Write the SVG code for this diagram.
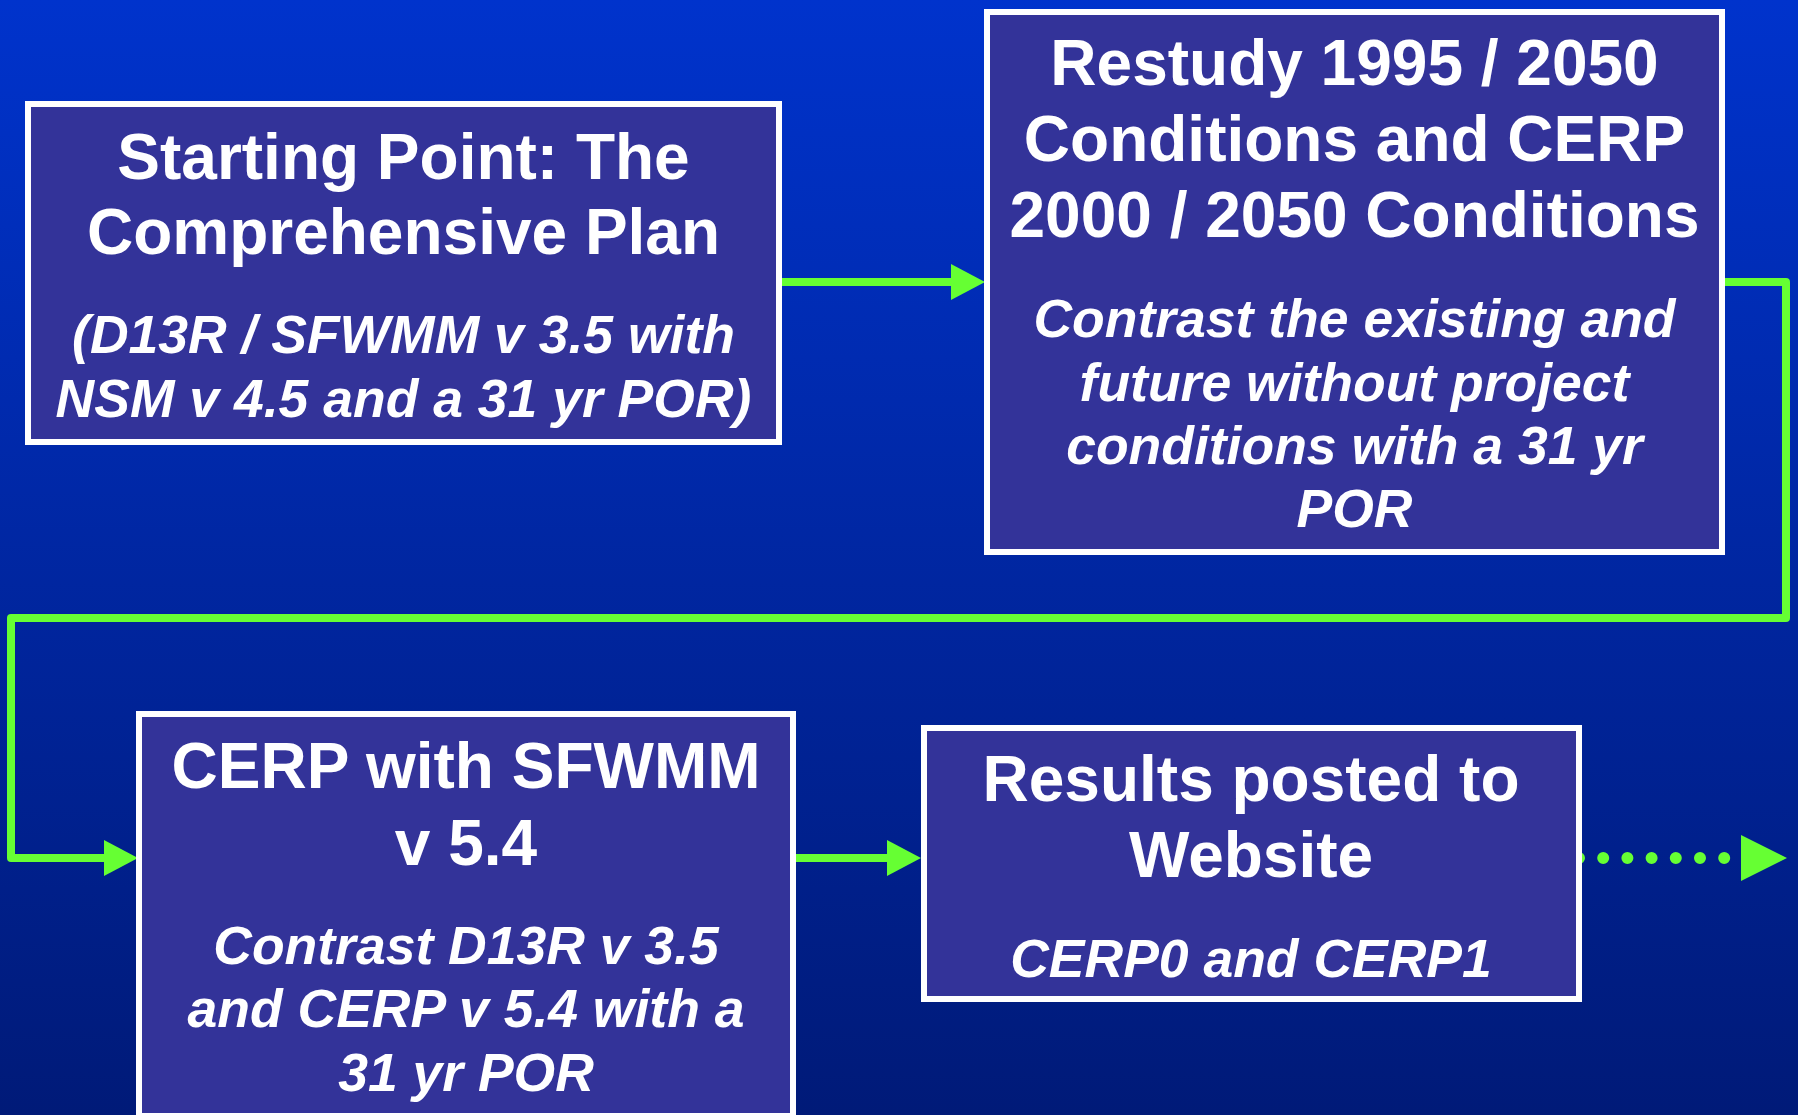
<svg xmlns="http://www.w3.org/2000/svg" width="1798" height="1115" viewBox="0 0 1798 1115">
<style>
.box{fill:#333399;stroke:#FFFFFF;stroke-width:6}
.t{font-family:"Liberation Sans",Arial,sans-serif;font-weight:bold;font-size:64px;fill:#FFFFFF;text-anchor:middle}
.s{font-family:"Liberation Sans",Arial,sans-serif;font-weight:bold;font-style:italic;font-size:53.5px;fill:#FFFFFF;text-anchor:middle}
.c{fill:none;stroke:#66FF33;stroke-width:8}
.d{fill:none;stroke:#66FF33;stroke-width:12;stroke-linecap:round;stroke-dasharray:0 24.2}
</style>
<defs>
<linearGradient id="bg" x1="0" y1="0" x2="0" y2="1">
<stop offset="0" stop-color="#0033CC"/>
<stop offset="1" stop-color="#001A78"/>
</linearGradient>
<marker id="ah" viewBox="0 0 34 36" refX="0" refY="18" markerWidth="34" markerHeight="36" markerUnits="userSpaceOnUse" orient="auto">
<path d="M0,0 L34,18 L0,36 Z" fill="#66FF33"/>
</marker>
<marker id="ahL" viewBox="0 0 46 46" refX="0" refY="23" markerWidth="46" markerHeight="46" markerUnits="userSpaceOnUse" orient="auto">
<path d="M0,0 L46,23 L0,46 Z" fill="#66FF33"/>
</marker>
</defs>
<rect x="0" y="0" width="1798" height="1115" fill="url(#bg)"/>
<g id="connectors">
<path class="c" d="M779,282 H951" marker-end="url(#ah)"/>
<path class="c" d="M1722,282 H1786 V618 H11 V858 H104" stroke-linejoin="round" marker-end="url(#ah)"/>
<path class="c" d="M793,858 H887" marker-end="url(#ah)"/>
<path class="d" d="M1579,858 H1741" marker-end="url(#ahL)"/>
</g>
<g id="node-starting-point">
<rect class="box" x="28" y="104" width="751" height="338"/>
<text class="t" x="403.5" y="179">Starting Point: The</text>
<text class="t" x="403.5" y="254">Comprehensive Plan</text>
<text class="s" x="403.5" y="353">(D13R / SFWMM v 3.5 with</text>
<text class="s" x="403.5" y="417">NSM v 4.5 and a 31 yr POR)</text>
</g>
<g id="node-restudy">
<rect class="box" x="987" y="12" width="735" height="540"/>
<text class="t" x="1354.5" y="85">Restudy 1995 / 2050</text>
<text class="t" x="1354.5" y="161">Conditions and CERP</text>
<text class="t" x="1354.5" y="237">2000 / 2050 Conditions</text>
<text class="s" x="1354.5" y="337">Contrast the existing and</text>
<text class="s" x="1354.5" y="401">future without project</text>
<text class="s" x="1354.5" y="464">conditions with a 31 yr</text>
<text class="s" x="1354.5" y="527">POR</text>
</g>
<g id="node-cerp">
<rect class="box" x="139" y="714" width="654" height="402"/>
<text class="t" x="466" y="788">CERP with SFWMM</text>
<text class="t" x="466" y="865">v 5.4</text>
<text class="s" x="466" y="964">Contrast D13R v 3.5</text>
<text class="s" x="466" y="1027">and CERP v 5.4 with a</text>
<text class="s" x="466" y="1091">31 yr POR</text>
</g>
<g id="node-results">
<rect class="box" x="924" y="728" width="655" height="271"/>
<text class="t" x="1251" y="801">Results posted to</text>
<text class="t" x="1251" y="877">Website</text>
<text class="s" x="1251" y="977">CERP0 and CERP1</text>
</g>
</svg>
